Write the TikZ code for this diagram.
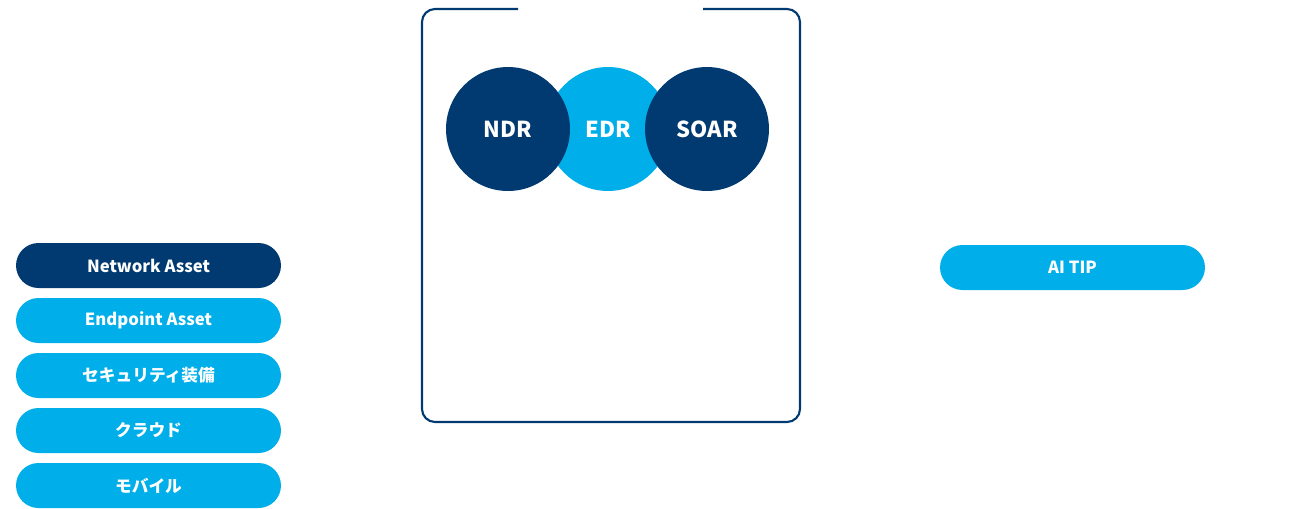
\documentclass[tikz,border=0pt]{standalone}
\usepackage{fontspec}
\setmainfont{Noto Sans CJK JP}
\newfontfamily\jpfont{Noto Sans CJK JP}
\definecolor{navy}{HTML}{003A70}
\definecolor{skyblue}{HTML}{00AEEA}
\tikzset{
  pill/.style={draw=none, fill=skyblue, text=white, rounded corners=0.449cm,
    minimum width=5.3cm, minimum height=0.9cm, inner sep=0pt,
    font=\bfseries\fontsize{9.5}{11}\selectfont},
  disc/.style={circle, draw=none, text=white, minimum size=2.48cm, inner sep=0pt,
    font=\bfseries\fontsize{12.5}{14}\selectfont},
}
\begin{document}
\begin{tikzpicture}[x=0.02cm, y=-0.02cm]
  \useasboundingbox (0,0) rectangle (1313,508);
  % platform frame (open at the top)
  \draw[navy, line width=1.2pt, rounded corners=0.26cm]
    (518,9) -- (422,9) -- (422,422) -- (800,422) -- (800,9) -- (703,9);
  % product circles
  \node[disc, fill=skyblue] (edr) at (608,129) {EDR};
  \node[disc, fill=navy] (ndr) at (508,129) {NDR};
  \node[disc, fill=navy] (soar) at (707,129) {SOAR};
  % data sources (left)
  \node[pill, fill=navy] (network) at (148.5,265.5) {Network Asset};
  \node[pill] (endpoint) at (148.5,320.5) {Endpoint Asset};
  \node[pill] (security) at (148.5,375.5) {\jpfont\bfseries セキュリティ装備};
  \node[pill] (cloud) at (148.5,430.5) {\jpfont\bfseries クラウド};
  \node[pill] (mobile) at (148.5,485.5) {\jpfont\bfseries モバイル};
  % threat intel (right)
  \node[pill] (aitip) at (1072.5,267.5) {AI TIP};
\end{tikzpicture}
\end{document}
